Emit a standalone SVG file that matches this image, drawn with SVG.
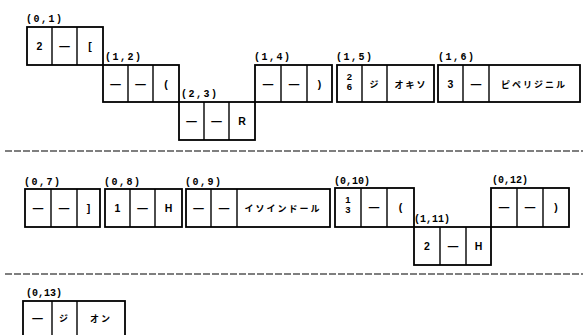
<svg xmlns="http://www.w3.org/2000/svg" width="583" height="335" viewBox="0 0 583 335">
<style>
.box{fill:#fff;stroke:#000;stroke-width:1.8}
.div{stroke:#000;stroke-width:1.4}
.lbl{font-family:"Liberation Mono","DejaVu Sans Mono",monospace;font-weight:bold;font-size:10px;fill:#000;letter-spacing:1.5px}
.lbl6{font-family:"Liberation Mono","DejaVu Sans Mono",monospace;font-weight:bold;font-size:10px;fill:#000}
.t{font-family:"Liberation Sans","Noto Sans CJK JP",sans-serif;font-weight:bold;font-size:10.5px;fill:#000;text-anchor:middle;dominant-baseline:central}
.j{font-family:"Noto Sans CJK JP",sans-serif;font-weight:bold;font-size:9px;fill:#000;text-anchor:middle;dominant-baseline:central;letter-spacing:2px}
.f{font-family:"Liberation Sans",sans-serif;font-weight:bold;font-size:9.5px;fill:#000;text-anchor:middle}
.sep{stroke:#000;stroke-width:1.2;stroke-dasharray:7 2;fill:none}
</style>
<rect width="583" height="335" fill="#fff"/>
<g id="separators">
<line class="sep" x1="5" y1="151" x2="583" y2="151"/>
<line class="sep" x1="5" y1="274" x2="583" y2="274"/>
</g>
<g id="n01">
<text class="lbl" x="26" y="22">(0,1)</text>
<rect class="box" x="27" y="27" width="76" height="38"/>
<line class="div" x1="52" y1="27" x2="52" y2="65"/><line class="div" x1="77" y1="27" x2="77" y2="65"/>
<text class="t" x="39.5" y="46">2</text><text class="t" x="64.5" y="46">—</text><text class="t" x="90" y="46">[</text>
</g>
<g id="n12">
<text class="lbl" x="105" y="60">(1,2)</text>
<rect class="box" x="103" y="65" width="76" height="37"/>
<line class="div" x1="128" y1="65" x2="128" y2="102"/><line class="div" x1="153" y1="65" x2="153" y2="102"/>
<text class="t" x="115.5" y="84">—</text><text class="t" x="140.5" y="84">—</text><text class="t" x="166" y="84">(</text>
</g>
<g id="n23">
<text class="lbl" x="181" y="97">(2,3)</text>
<rect class="box" x="179" y="102" width="76" height="38"/>
<line class="div" x1="204" y1="102" x2="204" y2="140"/><line class="div" x1="229" y1="102" x2="229" y2="140"/>
<text class="t" x="191.5" y="121">—</text><text class="t" x="216.5" y="121">—</text><text class="t" x="242" y="121">R</text>
</g>
<g id="n14">
<text class="lbl" x="254" y="60">(1,4)</text>
<rect class="box" x="255" y="65" width="77" height="37"/>
<line class="div" x1="281" y1="65" x2="281" y2="102"/><line class="div" x1="307" y1="65" x2="307" y2="102"/>
<text class="t" x="268" y="84">—</text><text class="t" x="294" y="84">—</text><text class="t" x="319.5" y="84">)</text>
</g>
<g id="n15">
<text class="lbl" x="336" y="60">(1,5)</text>
<rect class="box" x="337" y="65" width="97" height="37"/>
<line class="div" x1="362" y1="65" x2="362" y2="102"/><line class="div" x1="387" y1="65" x2="387" y2="102"/>
<text class="f" x="349.5" y="80">2</text><text class="f" x="349.5" y="90">6</text>
<text class="j" x="375" y="84" letter-spacing="0">ジ</text>
<text class="j" x="411" y="84">オキソ</text>
</g>
<g id="n16">
<text class="lbl" x="438" y="60">(1,6)</text>
<rect class="box" x="438" y="65" width="142" height="37"/>
<line class="div" x1="463" y1="65" x2="463" y2="102"/><line class="div" x1="489" y1="65" x2="489" y2="102"/>
<text class="t" x="450.5" y="84">3</text><text class="t" x="476" y="84">—</text>
<text class="j" x="534" y="84">ピペリジニル</text>
</g>
<g id="n07">
<text class="lbl" x="24" y="185">(0,7)</text>
<rect class="box" x="25" y="189" width="75" height="38"/>
<line class="div" x1="51" y1="189" x2="51" y2="227"/><line class="div" x1="77" y1="189" x2="77" y2="227"/>
<text class="t" x="38" y="208">—</text><text class="t" x="64" y="208">—</text><text class="t" x="88.5" y="208">]</text>
</g>
<g id="n08">
<text class="lbl" x="104" y="185">(0,8)</text>
<rect class="box" x="105" y="189" width="77" height="38"/>
<line class="div" x1="130" y1="189" x2="130" y2="227"/><line class="div" x1="155" y1="189" x2="155" y2="227"/>
<text class="t" x="117.5" y="208">1</text><text class="t" x="142.5" y="208">—</text><text class="t" x="168.5" y="208">H</text>
</g>
<g id="n09">
<text class="lbl" x="185" y="185">(0,9)</text>
<rect class="box" x="186" y="189" width="144" height="38"/>
<line class="div" x1="211" y1="189" x2="211" y2="227"/><line class="div" x1="237" y1="189" x2="237" y2="227"/>
<text class="t" x="198.5" y="208">—</text><text class="t" x="224" y="208">—</text>
<text class="j" x="283" y="208" letter-spacing="0.5">イソインドール</text>
</g>
<g id="n010">
<text class="lbl6" x="334" y="184">(0,10)</text>
<rect class="box" x="335" y="188" width="79" height="39"/>
<line class="div" x1="361" y1="188" x2="361" y2="227"/><line class="div" x1="387" y1="188" x2="387" y2="227"/>
<text class="f" x="348" y="203">1</text><text class="f" x="348" y="213">3</text>
<text class="t" x="374" y="207">—</text><text class="t" x="400.5" y="207">(</text>
</g>
<g id="n111">
<text class="lbl6" x="414" y="222">(1,11)</text>
<rect class="box" x="414" y="227" width="77" height="38"/>
<line class="div" x1="440" y1="227" x2="440" y2="265"/><line class="div" x1="466" y1="227" x2="466" y2="265"/>
<text class="t" x="427" y="246">2</text><text class="t" x="453" y="246">—</text><text class="t" x="478.5" y="246">H</text>
</g>
<g id="n012">
<text class="lbl6" x="492" y="183">(0,12)</text>
<rect class="box" x="491" y="188" width="78" height="39"/>
<line class="div" x1="517" y1="188" x2="517" y2="227"/><line class="div" x1="543" y1="188" x2="543" y2="227"/>
<text class="t" x="504" y="207">—</text><text class="t" x="530" y="207">—</text><text class="t" x="556" y="207">)</text>
</g>
<g id="n013">
<text class="lbl6" x="26" y="296">(0,13)</text>
<rect class="box" x="23" y="301" width="102" height="38"/>
<line class="div" x1="52" y1="301" x2="52" y2="339"/><line class="div" x1="77" y1="301" x2="77" y2="339"/>
<text class="t" x="37.5" y="318">—</text>
<text class="j" x="64.5" y="318" letter-spacing="0">ジ</text>
<text class="j" x="101" y="318">オン</text>
</g>
</svg>
